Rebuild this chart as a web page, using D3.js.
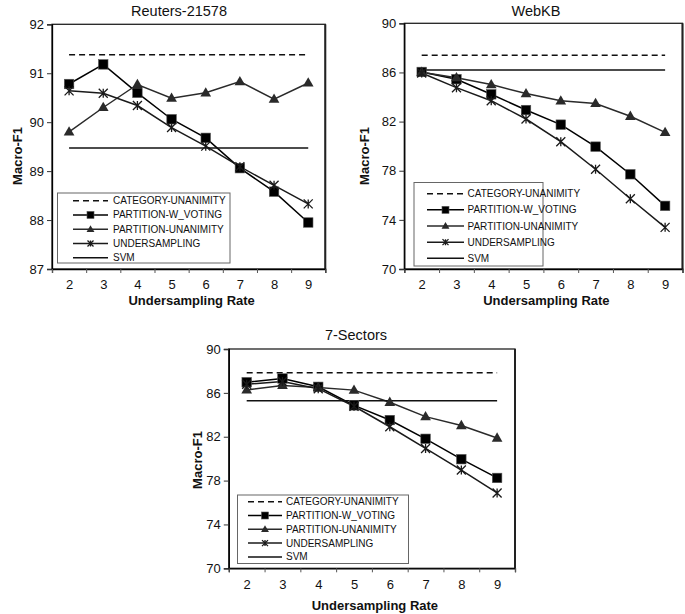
<!DOCTYPE html>
<html>
<head>
<meta charset="utf-8">
<script src="https://cdn.jsdelivr.net/npm/d3@7/dist/d3.min.js"></script>
<style>
  html, body { margin: 0; padding: 0; background: #fff; }
  svg { display: block; font-family: "Liberation Sans", Arial, sans-serif; }
</style>
</head>
<body>
<svg id="chart" width="685" height="614"></svg>
<script>
// ---------------- DATA ----------------
const rates = [2, 3, 4, 5, 6, 7, 8, 9];
const seriesNames = ["CATEGORY-UNANIMITY", "PARTITION-W_VOTING", "PARTITION-UNANIMITY", "UNDERSAMPLING", "SVM"];
const panelTitles = ["Reuters-21578", "WebKB", "7-Sectors"];
const xAxisTitle = "Undersampling Rate";
const yAxisTitle = "Macro-F1";

const reutersYTicks = [87, 88, 89, 90, 91, 92];
const reutersCategoryUnanimity = [91.38, 91.38, 91.38, 91.38, 91.38, 91.38, 91.38, 91.38];
const reutersPartitionWVoting   = [90.78, 91.18, 90.60, 90.06, 89.68, 89.06, 88.58, 87.95];
const reutersPartitionUnanimity = [89.80, 90.30, 90.77, 90.49, 90.60, 90.83, 90.47, 90.80];
const reutersUndersampling      = [90.64, 90.59, 90.34, 89.89, 89.51, 89.09, 88.71, 88.33];
const reutersSVM                = [89.47, 89.47, 89.47, 89.47, 89.47, 89.47, 89.47, 89.47];

const webkbYTicks = [70, 74, 78, 82, 86, 90];
const webkbCategoryUnanimity = [87.39, 87.39, 87.39, 87.39, 87.39, 87.39, 87.39, 87.39];
const webkbPartitionWVoting   = [86.04, 85.45, 84.22, 82.94, 81.75, 79.96, 77.71, 75.14];
const webkbPartitionUnanimity = [86.02, 85.57, 85.01, 84.28, 83.69, 83.47, 82.43, 81.12];
const webkbUndersampling      = [85.95, 84.76, 83.70, 82.21, 80.36, 78.12, 75.72, 73.39];
const webkbSVM                = [86.20, 86.20, 86.20, 86.20, 86.20, 86.20, 86.20, 86.20];

const sectorsYTicks = [70, 74, 78, 82, 86, 90];
const sectorsCategoryUnanimity = [87.84, 87.84, 87.84, 87.84, 87.84, 87.84, 87.84, 87.84];
const sectorsPartitionWVoting   = [86.97, 87.31, 86.55, 84.86, 83.52, 81.81, 79.95, 78.24];
const sectorsPartitionUnanimity = [86.26, 86.68, 86.50, 86.25, 85.14, 83.83, 83.02, 81.88];
const sectorsUndersampling      = [86.79, 87.03, 86.38, 84.78, 82.91, 80.93, 78.96, 76.87];
const sectorsSVM                = [85.28, 85.28, 85.28, 85.28, 85.28, 85.28, 85.28, 85.28];

// ---------------- LAYOUT ----------------
const panels = [
  { title: panelTitles[0], yTicks: reutersYTicks,
    series: [reutersCategoryUnanimity, reutersPartitionWVoting, reutersPartitionUnanimity, reutersUndersampling, reutersSVM],
    left: 52, right: 325.3, top: 24.3, bottom: 269, titleX: 179, titleY: 16, yTitleX: 17, yTitleY: 156, xTitleY: 305,
    legend: { x: 57.5, y: 193, w: 172.5, h: 70, lineX1: 73, lineX2: 108, textX: 113, rowY0: 200.7, rowDy: 14.25 } },
  { title: panelTitles[1], yTicks: webkbYTicks,
    series: [webkbCategoryUnanimity, webkbPartitionWVoting, webkbPartitionUnanimity, webkbUndersampling, webkbSVM],
    left: 404.3, right: 682.5, top: 23.3, bottom: 269, titleX: 536, titleY: 16, yTitleX: 364, yTitleY: 156, xTitleY: 305,
    legend: { x: 414, y: 182.5, w: 129, h: 83.5, lineX1: 427, lineX2: 464, textX: 467.5, rowY0: 193.7, rowDy: 16.15 } },
  { title: panelTitles[2], yTicks: sectorsYTicks,
    series: [sectorsCategoryUnanimity, sectorsPartitionWVoting, sectorsPartitionUnanimity, sectorsUndersampling, sectorsSVM],
    left: 228.8, right: 515, top: 349, bottom: 568.3, titleX: 356, titleY: 340, yTitleX: 197, yTitleY: 460, xTitleY: 610,
    legend: { x: 237.5, y: 495, w: 171, h: 68.5, lineX1: 248, lineX2: 282, textX: 286, rowY0: 501.7, rowDy: 13.8 } }
];

const styles = [
  { stroke: "#111", dash: "6,4", marker: null },
  { stroke: "#000", dash: null, marker: "square" },
  { stroke: "#2a2a2a", dash: null, marker: "triangle" },
  { stroke: "#1a1a1a", dash: null, marker: "asterisk" },
  { stroke: "#111", dash: null, marker: null }
];

const svg = d3.select("#chart");

function drawMarker(g, type, cx, cy, size, color) {
  const s = size / 2;
  if (type === "square") {
    g.append("rect").attr("x", cx - s).attr("y", cy - s).attr("width", size).attr("height", size)
      .attr("fill", color).attr("stroke", "#555").attr("stroke-width", 0.6);
  } else if (type === "triangle") {
    g.append("path").attr("d", d3.symbol(d3.symbolTriangle, size * size * 0.55)())
      .attr("transform", `translate(${cx},${cy + 0.5})`).attr("fill", color);
  } else if (type === "asterisk") {
    const p = d3.path();
    p.moveTo(cx - s, cy - s); p.lineTo(cx + s, cy + s);
    p.moveTo(cx - s, cy + s); p.lineTo(cx + s, cy - s);
    p.moveTo(cx, cy - s); p.lineTo(cx, cy + s);
    g.append("path").attr("d", p.toString()).attr("stroke", color).attr("stroke-width", 1.3).attr("fill", "none");
  }
}

panels.forEach(P => {
  const g = svg.append("g");
  const yMin = d3.min(P.yTicks), yMax = d3.max(P.yTicks);
  const x = d3.scaleLinear().domain([rates[0] - 0.5, rates[rates.length - 1] + 0.5]).range([P.left, P.right]);
  const y = d3.scaleLinear().domain([yMin, yMax]).range([P.bottom, P.top]);

  // plot frame
  g.append("rect").attr("x", P.left).attr("y", P.top).attr("width", P.right - P.left).attr("height", P.bottom - P.top)
    .attr("fill", "none").attr("stroke", "#222").attr("stroke-width", 1.3);
  g.append("line").attr("x1", P.right).attr("x2", P.right).attr("y1", P.top).attr("y2", P.bottom)
    .attr("stroke", "#222").attr("stroke-width", 2);

  // y axis
  const yAxis = d3.axisLeft(y).tickValues(P.yTicks).tickSize(5).tickPadding(3).tickFormat(d3.format("d"));
  const ya = g.append("g").attr("transform", `translate(${P.left},0)`).call(yAxis);
  ya.select(".domain").attr("stroke", "#000").attr("stroke-width", 1.3);
  ya.selectAll(".tick line").attr("stroke", "#333");
  ya.selectAll("text").attr("font-size", 13).attr("fill", "#111").attr("font-family", "Liberation Sans, Arial, sans-serif");

  // x axis: tick lines on category boundaries, labels at centers
  const bounds = rates.map(r => r - 0.5).concat([rates[rates.length - 1] + 0.5]);
  const xa = g.append("g").attr("transform", `translate(0,${P.bottom})`)
    .call(d3.axisBottom(x).tickValues(bounds).tickSize(4).tickFormat(""));
  xa.select(".domain").attr("stroke", "#000").attr("stroke-width", 1.3);
  xa.selectAll(".tick line").attr("stroke", "#555");
  const xl = g.append("g").attr("transform", `translate(0,${P.bottom})`)
    .call(d3.axisBottom(x).tickValues(rates).tickSize(0).tickPadding(11).tickFormat(d3.format("d")));
  xl.select(".domain").remove();
  xl.selectAll("text").attr("font-size", 13).attr("fill", "#111").attr("font-family", "Liberation Sans, Arial, sans-serif");

  // titles
  g.append("text").attr("x", P.titleX).attr("y", P.titleY).attr("text-anchor", "middle")
    .attr("font-size", 14.5).attr("fill", "#111").text(P.title);
  g.append("text").attr("x", (P.left + P.right) / 2 + 3).attr("y", P.xTitleY).attr("text-anchor", "middle")
    .attr("font-size", 13).attr("font-weight", "bold").attr("fill", "#111").text(xAxisTitle);
  g.append("text").attr("transform", `translate(${P.yTitleX},${P.yTitleY}) rotate(-90)`).attr("text-anchor", "middle")
    .attr("dominant-baseline", "central").attr("font-size", 13).attr("font-weight", "bold").attr("fill", "#111").text(yAxisTitle);

  // series
  const line = d3.line().x((d, i) => x(rates[i])).y(d => y(d));
  P.series.forEach((vals, si) => {
    const st = styles[si];
    g.append("path").attr("d", line(vals)).attr("fill", "none").attr("stroke", st.stroke)
      .attr("stroke-width", 1.5).attr("stroke-dasharray", st.dash);
  });
  P.series.forEach((vals, si) => {
    const st = styles[si];
    if (!st.marker) return;
    vals.forEach((v, i) => drawMarker(g, st.marker, x(rates[i]), y(v), st.marker === "asterisk" ? 9 : 9.5, st.stroke));
  });

  // legend
  const L = P.legend;
  const lg = g.append("g");
  lg.append("rect").attr("x", L.x).attr("y", L.y).attr("width", L.w).attr("height", L.h)
    .attr("fill", "#fff").attr("stroke", "#666").attr("stroke-width", 1);
  seriesNames.forEach((name, si) => {
    const st = styles[si];
    const yy = L.rowY0 + si * L.rowDy;
    lg.append("line").attr("x1", L.lineX1).attr("x2", L.lineX2).attr("y1", yy).attr("y2", yy)
      .attr("stroke", st.stroke).attr("stroke-width", 1.5).attr("stroke-dasharray", st.dash);
    if (st.marker) drawMarker(lg, st.marker, (L.lineX1 + L.lineX2) / 2, yy, st.marker === "asterisk" ? 6 : 7, st.stroke);
    lg.append("text").attr("x", L.textX).attr("y", yy).attr("dominant-baseline", "central")
      .attr("font-size", 10).attr("fill", "#111").text(name);
  });
});
</script>
</body>
</html>
